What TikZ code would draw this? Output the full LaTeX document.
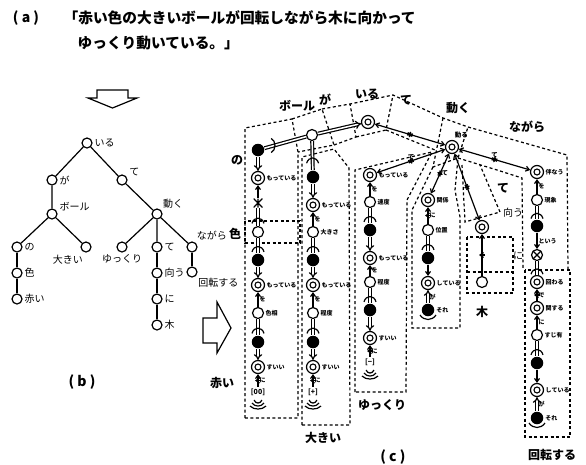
\documentclass[tikz,border=0pt]{standalone}
\usepackage{fontspec}
\usepackage{tikz}
\usetikzlibrary{arrows.meta,calc,decorations.markings}
\newfontfamily\jp{Noto Sans CJK JP}

\tikzset{
  tn/.style={circle,draw,line width=1.2pt,minimum size=10pt,inner sep=0pt},
  oc/.style={circle,draw,line width=1.2pt,minimum size=11pt,inner sep=0pt},
  fc/.style={circle,fill,minimum size=12.5pt,inner sep=0pt},
  dc/.style={circle,draw,line width=1.2pt,minimum size=13pt,inner sep=0pt,
    path picture={\draw[line width=1.1pt] (path picture bounding box.center) circle (3pt);}},
  xc/.style={oc,path picture={\draw (path picture bounding box.south west)--(path picture bounding box.north east)
    (path picture bounding box.north west)--(path picture bounding box.south east);}},
  ast/.style={minimum size=9pt,inner sep=0pt,path picture={\draw[line width=1.1pt]
    (path picture bounding box.north)--(path picture bounding box.south)
    (path picture bounding box.north west)--(path picture bounding box.south east)
    (path picture bounding box.north east)--(path picture bounding box.south west);}},
  tl/.style={font=\jp\fontsize{10}{11}\selectfont,inner sep=1.5pt},
  lb/.style={font=\jp\bfseries\fontsize{12}{13}\selectfont,inner sep=0pt},
  sm/.style={font=\jp\bfseries\fontsize{6}{6.5}\selectfont,inner sep=1pt},
  val/.style={font=\jp\bfseries\fontsize{7}{8}\selectfont,inner sep=1pt},
  dbox/.style={line width=1.2pt,dash pattern=on 3pt off 2.5pt},
  dl/.style={double,double distance=1.5pt},
  imp/.style={double,double distance=1.5pt,-{Implies}},
  uar/.style={-{Straight Barb[length=3.5pt,width=5pt]}},
  tk/.style={postaction={decorate,decoration={markings,
    mark=at position 0.5 with {\draw[line width=1.2pt] (0,-3pt)--(0,3pt);}}}},
  tup/.style={uar,tk},
  biarr/.style={{Straight Barb[length=3.5pt,width=5pt]}-{Straight Barb[length=3.5pt,width=5pt]},tk},
}

% double line with a cap arc near the second node
\newcommand\kline[2]{%
  \draw[dl] (#1) -- (#2);
  \draw ($(#1)!0.6!(#2)$) ++(-6,3) .. controls +(2,-7) and +(-2,-7) .. ++(12,0);}
\newcommand\wavearcs[1]{%
  \foreach \w/\d in {4/3,6/6,8/9}{\draw ($(#1)+(-\w,\d)$) .. controls ($(#1)+(-\w/2,\d+4)$) and ($(#1)+(\w/2,\d+4)$) .. ($(#1)+(\w,\d)$);}}
\newcommand\undarc[1]{%
  \draw ($(#1)+(-8,5)$) .. controls ($(#1)+(-4,11)$) and ($(#1)+(4,11)$) .. ($(#1)+(8,5)$);}

\begin{document}
\begin{tikzpicture}[x=1pt,y=-1pt,line width=1.2pt]
  \fill[white] (0,0) rectangle (586,464);
  \useasboundingbox (0,0) rectangle (586,464);

  % (a)
  \node[font=\jp\bfseries\fontsize{14}{16}\selectfont] (la) at (26,18) {( a )};
  \node[anchor=west,inner sep=0pt,font=\jp\bfseries\fontsize{14.7}{16}\selectfont] (s1) at (63,18) {「赤い色の大きいボールが回転しながら木に向かって};
  \node[anchor=west,inner sep=0pt,font=\jp\bfseries\fontsize{14.7}{16}\selectfont] (s2) at (77,43) {ゆっくり動いている。」};
  \draw (97,90) -- (128,90) -- (128,98) -- (137,98) -- (112.5,108) -- (88,98) -- (97,98) -- cycle;

  % (b) tree
  \node[tn,label={[tl]0:いる}] (ti) at (87,143) {};
  \node[tn,label={[tl]0:が}] (tga) at (52,180) {};
  \node[tn,label={[tl]20:て}] (tte) at (122,180) {};
  \node[tn,label={[tl]10:ボール}] (tbo) at (52,214) {};
  \node[tn,label={[tl]45:動く}] (tug) at (157,214) {};
  \node[tn,label={[tl]0:の}] (tno) at (17,247) {};
  \node[tn,label={[tl]0:色}] (tir) at (17,273) {};
  \node[tn,label={[tl]0:赤い}] (tak) at (17,299) {};
  \node[tn,label={[tl]-100:大きい}] (tok) at (86,247) {};
  \node[tn,label={[tl]-90:ゆっくり}] (tyu) at (122,247) {};
  \node[tn,label={[tl]0:て}] (tte2) at (157,247) {};
  \node[tn,label={[tl]0:向う}] (tmu) at (157,273) {};
  \node[tn,label={[tl]0:に}] (tni) at (157,299) {};
  \node[tn,label={[tl]0:木}] (tki) at (157,325) {};
  \node[tn,label={[tl]60:ながら}] (tna) at (192,247) {};
  \node[tn,label={[tl]-40:回転する}] (tka) at (192,272) {};
  \draw (ti) -- (tga) (ti) -- (tte) (tga) -- (tbo) (tte) -- (tug);
  \draw (tbo) -- (tno) (tbo) -- (tok) (tug) -- (tyu) (tug) -- (tte2) (tug) -- (tna);
  \draw (tno) -- (tir) -- (tak) (tte2) -- (tmu) -- (tni) -- (tki) (tna) -- (tka);
  \node[font=\jp\bfseries\fontsize{14}{16}\selectfont] (lb) at (82,382) {( b )};
  \draw (203,318) -- (217,318) -- (217,302) -- (231,328) -- (217,353) -- (217,343) -- (203,343) -- cycle;

  % (c) dashed regions
  \draw[dbox] (245,418) -- (245,128) -- (292,119) -- (298,152) -- (298,418) -- cycle;
  \draw[dbox] (245,221) rectangle (300,243);
  \draw[dbox] (292,119) -- (322,109) -- (334,145) -- (298,152);
  \draw[dbox] (302,425) -- (302,157) -- (334,149) -- (349,168) -- (350,425) -- cycle;
  \draw[dbox] (322,109) -- (350,104) -- (393,95) -- (443,118) -- (468,127) -- (567,155) -- (568,270);
  \draw[dbox] (334,145) -- (356,137) -- (350,104) (356,137) -- (386,130) -- (393,95) (386,130) -- (435,150);
  \draw[dbox] (443,118) -- (433,167) -- (458,158) -- (468,127);
  \draw[dbox] (355,392) -- (355,170) -- (432,152) -- (407,200) -- (406,392) -- cycle;
  \draw[dbox] (433,167) -- (412,210) -- (412,328) -- (460,328) -- (460,217) -- (455,190) -- (458,158);
  \draw[dbox] (462,165) -- (465,222) -- (500,212) -- (480,165);
  \draw[dbox] (458,158) -- (497,170) -- (522,178) -- (523,270);
  \draw[dbox] (467,237) rectangle (513,293) (467,272) -- (513,272);
  \draw[dbox] (525,270) rectangle (570,437);

  % (c) top
  \node[oc] (bo) at (312,135) {};
  \node[dc] (iru) at (368,122) {};
  \node[dc,label={[sm,font=\jp\bfseries\fontsize{6.5}{7}\selectfont]80:動る}] (ugo) at (452,147) {};

  % column 1
  \node[fc] (c1a) at (258,150) {};
  \node[dc,label={[sm]0:もっている}] (c1b) at (258,178) {};
  \node[ast] (c1c) at (258,203) {};
  \node[oc] (c1d) at (258,232) {};
  \node[fc] (c1e) at (258,260) {};
  \node[dc,label={[sm]0:もっている}] (c1f) at (258,285) {};
  \node[oc,label={[sm]0:色相}] (c1g) at (258,313) {};
  \node[fc] (c1h) at (258,342) {};
  \node[dc,label={[sm]0:すいい}] (c1i) at (258,367) {};
  \node[val] (c1j) at (258,392) {[00]};
  \draw[imp] (c1a) -- (c1b);
  \draw[uar] (c1c) -- (c1b);
  \kline{c1c}{c1d}
  \kline{c1d}{c1e}
  \draw[imp] (c1e) -- (c1f);
  \draw[uar] (c1g) -- node[sm,right] {を} (c1f);
  \kline{c1g}{c1h}
  \draw[imp] (c1h) -- (c1i);
  \draw[tup] (c1j) -- node[sm,right] {に} (c1i);
  \wavearcs{c1j.south}

  % column 2
  \node[fc] (c2a) at (313,177) {};
  \node[dc,label={[sm]0:もっている}] (c2b) at (313,205) {};
  \node[oc,label={[sm]0:大きさ}] (c2c) at (313,232) {};
  \node[fc] (c2d) at (313,260) {};
  \node[dc,label={[sm]0:もっている}] (c2e) at (313,285) {};
  \node[oc,label={[sm]0:程度}] (c2f) at (313,313) {};
  \node[fc] (c2g) at (313,342) {};
  \node[dc,label={[sm]0:すいい}] (c2h) at (313,367) {};
  \node[val] (c2i) at (313,392) {[+]};
  \kline{bo}{c2a}
  \draw[imp] (c2a) -- (c2b);
  \draw[uar] (c2c) -- node[sm,right] {を} (c2b);
  \kline{c2c}{c2d}
  \draw[imp] (c2d) -- (c2e);
  \draw[uar] (c2f) -- node[sm,right] {を} (c2e);
  \kline{c2f}{c2g}
  \draw[imp] (c2g) -- (c2h);
  \draw[tup] (c2i) -- node[sm,right] {に} (c2h);
  \wavearcs{c2i.south}

  % column 3
  \node[dc,label={[sm]0:もっている}] (c3a) at (370,175) {};
  \node[oc,label={[sm]0:速度}] (c3b) at (370,202) {};
  \node[fc] (c3c) at (370,230) {};
  \node[dc,label={[sm]0:もっている}] (c3d) at (370,258) {};
  \node[oc,label={[sm]0:程度}] (c3e) at (370,282) {};
  \node[fc] (c3f) at (370,310) {};
  \node[dc,label={[sm]0:すいい}] (c3g) at (370,338) {};
  \node[val] (c3h) at (370,362) {[−]};
  \draw[uar] (c3b) -- node[sm,right] {を} (c3a);
  \kline{c3b}{c3c}
  \draw[imp] (c3c) -- (c3d);
  \draw[uar] (c3e) -- node[sm,right] {を} (c3d);
  \kline{c3e}{c3f}
  \draw[imp] (c3f) -- (c3g);
  \draw[tup] (c3h) -- node[sm,right] {に} (c3g);
  \wavearcs{c3h.south}

  % column 4
  \node[dc,label={[sm]0:関係}] (c4a) at (428,200) {};
  \node[oc,label={[sm]0:位置}] (c4b) at (428,230) {};
  \node[fc] (c4c) at (428,258) {};
  \node[dc,label={[sm]0:している}] (c4d) at (428,283) {};
  \node[fc,label={[sm]0:それ}] (c4e) at (428,310) {};
  \draw[tup] (c4b) -- node[sm,right] {に} (c4a);
  \kline{c4b}{c4c}
  \draw[uar] (c4c) -- (c4d);
  \draw[imp] (c4e) -- node[sm,right] {が} (c4d);
  \undarc{c4e}

  % column 5
  \node[dc] (c5a) at (482,227) {};
  \node[oc] (c5b) at (482,282) {};
  \draw[tup] (c5b) -- (c5a);

  % column 6
  \node[dc,label={[sm]0:伴なう}] (c6a) at (537,172) {};
  \node[oc,label={[sm]0:現象}] (c6b) at (537,200) {};
  \node[fc] (c6c) at (537,226) {};
  \node[xc] (c6d) at (537,255) {};
  \node[dc,label={[sm]0:回わる}] (c6e) at (537,282) {};
  \node[dc,label={[sm]0:関する}] (c6f) at (537,308) {};
  \node[oc,label={[sm]0:すじ有}] (c6g) at (537,335) {};
  \node[fc] (c6h) at (537,363) {};
  \node[dc,label={[sm]0:している}] (c6i) at (537,390) {};
  \node[fc,label={[sm]0:それ}] (c6j) at (537,418) {};
  \draw[uar] (c6b) -- node[sm,right] {を} (c6a);
  \kline{c6b}{c6c}
  \draw[uar] (c6c) -- node[sm,right] {という} (c6d);
  \kline{c6d}{c6e}
  \draw[tup] (c6f) -- node[sm,right] {で} (c6e);
  \draw[uar] (c6g) -- node[sm,right] {に} (c6f);
  \kline{c6g}{c6h}
  \draw[uar] (c6h) -- (c6i);
  \draw[imp] (c6j) -- node[sm,right] {が} (c6i);
  \undarc{c6j}

  % top links
  \draw[dl] (c1a) -- (bo);
  \draw ($(c1a)!0.3!(bo)$) ++(-3,-7) .. controls +(5,2) and +(5,-2) .. ++(0,14);
  \draw[imp] (bo) -- (iru);
  \draw[biarr] (iru) -- (ugo);
  \draw[biarr] (ugo) -- node[sm,above,font=\jp\bfseries\fontsize{6.5}{7}\selectfont] {て} (c3a);
  \draw[biarr] (ugo) -- node[sm,right,font=\jp\bfseries\fontsize{6.5}{7}\selectfont] {て} (c4a);
  \draw[biarr] (ugo) -- (c5a);
  \draw[biarr] (ugo) -- node[sm,above,font=\jp\bfseries\fontsize{6.5}{7}\selectfont] {て} (c6a);

  % (c) labels
  \node[lb] (lbo) at (297,106) {ボール};
  \node[lb] (lga) at (325,100) {が};
  \node[lb] (liru) at (367,94) {いる};
  \node[lb] (lte) at (406,100) {て};
  \node[lb] (lugo) at (458,108) {動く};
  \node[lb] (lna) at (527,127) {ながら};
  \node[lb] (lno) at (237,160) {の};
  \node[lb] (liro) at (235,234) {色};
  \node[lb] (laka) at (222,383) {赤い};
  \node[lb] (lok) at (323,438) {大きい};
  \node[lb] (lyu) at (382,405) {ゆっくり};
  \node[lb] (lki) at (482,312) {木};
  \node[lb] (lkai) at (552,455) {回転する};
  \node[lb] (lte2) at (503,188) {て};
  \node[tl] (lmu) at (513,213) {向う};
  \node[tl] (lni) at (518,256) {に};
  \node[font=\jp\bfseries\fontsize{14}{16}\selectfont] (lc) at (393,457) {( c )};
\end{tikzpicture}
\end{document}
